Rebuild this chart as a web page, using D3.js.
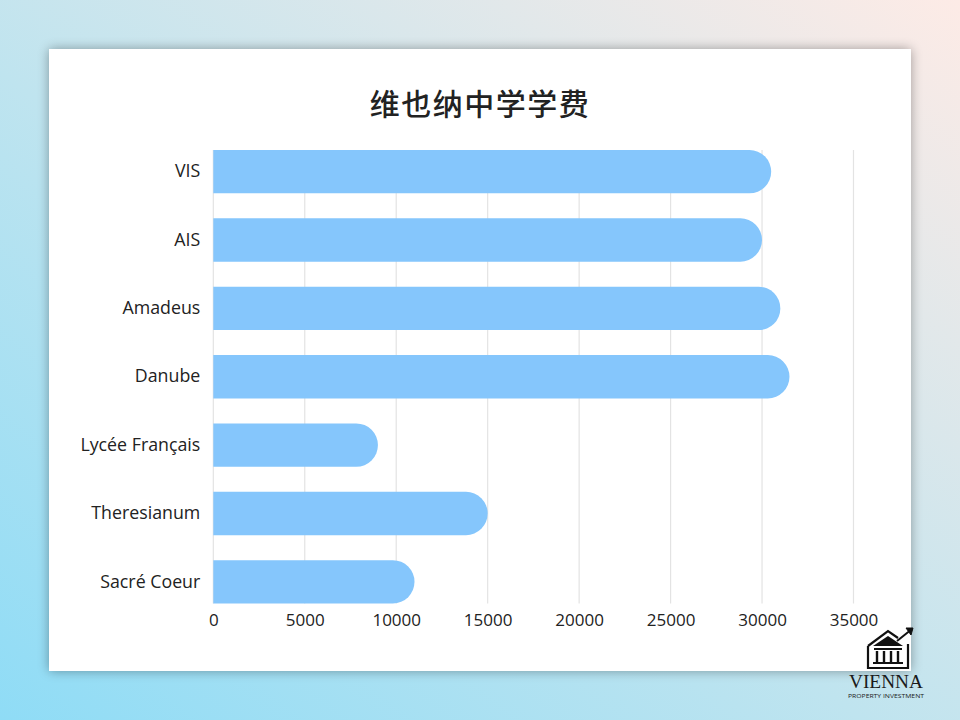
<!DOCTYPE html>
<html>
<head>
<meta charset="utf-8">
<script src="https://cdn.jsdelivr.net/npm/d3@7"></script>
<style>
html,body{margin:0;padding:0;}
body{width:960px;height:720px;overflow:hidden;}
</style>
</head>
<body>
<svg id="chart" width="960" height="720"></svg>
<script>
const title = "维也纳中学学费";
const categories = ["VIS", "AIS", "Amadeus", "Danube", "Lycée Français", "Theresianum", "Sacré Coeur"];
const values = [30500, 30000, 31000, 31500, 9000, 15000, 11000];
const xTicks = [0, 5000, 10000, 15000, 20000, 25000, 30000, 35000];

const svg = d3.select("#chart");
const defs = svg.append("defs");

const bg = defs.append("linearGradient").attr("id","bg")
  .attr("x1","0").attr("y1","1").attr("x2","1").attr("y2","0");
bg.append("stop").attr("offset","0").attr("stop-color","#8fdcf6");
bg.append("stop").attr("offset","0.45").attr("stop-color","#bfe4ef");
bg.append("stop").attr("offset","1").attr("stop-color","#fdebe6");

const sh = defs.append("filter").attr("id","shadow")
  .attr("x","-10%").attr("y","-10%").attr("width","120%").attr("height","120%");
sh.append("feGaussianBlur").attr("in","SourceAlpha").attr("stdDeviation","6");
sh.append("feOffset").attr("dx","0").attr("dy","0").attr("result","b");
sh.append("feComponentTransfer").append("feFuncA").attr("type","linear").attr("slope","0.35");
const fm = sh.append("feMerge");
fm.append("feMergeNode");
fm.append("feMergeNode").attr("in","SourceGraphic");

svg.append("rect").attr("width",960).attr("height",720).attr("fill","url(#bg)");
svg.append("rect").attr("x",49).attr("y",49).attr("width",862).attr("height",622)
  .attr("fill","#ffffff").attr("filter","url(#shadow)");

svg.append("text").attr("x",480).attr("y",115).attr("text-anchor","middle")
  .attr("font-family","'Noto Sans CJK SC', sans-serif").attr("font-size",30)
  .attr("letter-spacing",1.5)
  .attr("font-weight",500).attr("fill","#222").text(title);

const x = d3.scaleLinear().domain([0,35000]).range([213.3, 853.5]);
const y = d3.scaleBand().domain(categories).range([150, 603.5]).paddingInner(0.366).paddingOuter(0);

const gTop = y.range()[0], gBot = y.range()[1];

// gridlines
svg.append("g").selectAll("line").data(xTicks).join("line")
  .attr("x1", d=>x(d)).attr("x2", d=>x(d))
  .attr("y1", gTop).attr("y2", gBot)
  .attr("stroke","#e3e3e3").attr("stroke-width",1.2);

// bars with rounded right end
const barH = y.bandwidth();
svg.append("g").selectAll("path").data(values).join("path")
  .attr("d", (d,i)=>{
    const x0 = x(0), x1 = x(d), yt = y(categories[i]), r = barH/2;
    return `M${x0},${yt} L${x1-r},${yt} A${r},${r} 0 0 1 ${x1-r},${yt+barH} L${x0},${yt+barH} Z`;
  })
  .attr("fill","#85c6fc");

// axes
const xAxis = d3.axisBottom(x).tickValues(xTicks).tickSize(0).tickPadding(10).tickFormat(d3.format("d"));
const gx = svg.append("g").attr("transform",`translate(0,${gBot})`).call(xAxis);
gx.select(".domain").remove();
gx.selectAll("text").attr("font-family","'Open Sans', sans-serif").attr("font-size",17).attr("fill","#222");

const yAxis = d3.axisLeft(y).tickSize(0).tickPadding(13);
const gy = svg.append("g").attr("transform",`translate(${x(0)},0)`).call(yAxis);
gy.select(".domain").remove();
gy.selectAll("text").attr("font-family","'Open Sans', sans-serif").attr("font-size",17.8).attr("fill","#222");

// logo
const logo = svg.append("g").attr("fill","none").attr("stroke","#111");
logo.append("path").attr("d","M868,646 L888,631 L898,638 M868,646 L868,668 L908,668 L908,644").attr("stroke-width",2.2);
logo.append("path").attr("d","M897,641 L912,629").attr("stroke-width",2);
logo.append("path").attr("d","M906,628 L913,628 L911,635 Z").attr("fill","#111").attr("stroke-width",1);
logo.append("path").attr("d","M873,646 L888,636 L903,646 Z").attr("fill","#111").attr("stroke","none");
logo.append("rect").attr("x",874).attr("y",648).attr("width",28).attr("height",2).attr("fill","#111").attr("stroke","none");
[877,884,891,898].forEach(cx=>{
  logo.append("rect").attr("x",cx-1.2).attr("y",651).attr("width",2.4).attr("height",11).attr("fill","#111").attr("stroke","none");
});
logo.append("rect").attr("x",873).attr("y",662).attr("width",30).attr("height",2).attr("fill","#111").attr("stroke","none");

svg.append("text").attr("x",886).attr("y",688).attr("text-anchor","middle")
  .attr("font-family","'Liberation Serif', serif").attr("font-size",19)
  .attr("textLength",74).attr("lengthAdjust","spacingAndGlyphs")
  .attr("fill","#1a1a1a").text("VIENNA");
svg.append("text").attr("x",886).attr("y",698).attr("text-anchor","middle")
  .attr("font-family","'Open Sans', sans-serif").attr("font-size",6)
  .attr("textLength",76).attr("lengthAdjust","spacingAndGlyphs")
  .attr("fill","#1a1a1a").text("PROPERTY INVESTMENT");
</script>
</body>
</html>
